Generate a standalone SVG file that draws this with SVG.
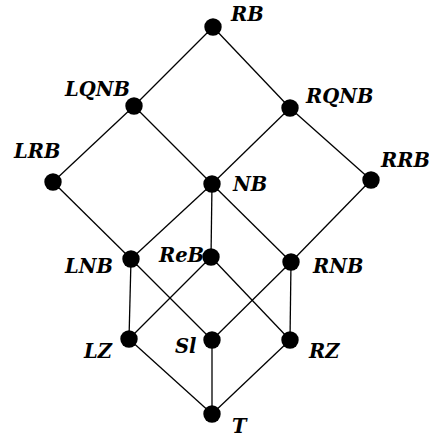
<svg xmlns="http://www.w3.org/2000/svg" width="429" height="437" viewBox="0 0 429 437">
  <style>
    .edge { stroke: #000; stroke-width: 1.3; fill: none; }
    .dot { fill: #000; }
    .lbl { font-family: "DejaVu Serif", "Liberation Serif", serif; font-weight: bold; font-style: italic; font-size: 19.5px; fill: #000; }
  </style>
  <rect width="429" height="437" fill="#fff"/>
  <g id="connectors">
    <line class="edge" x1="213" y1="27" x2="134" y2="106"/>
    <line class="edge" x1="213" y1="27" x2="290" y2="108"/>
    <line class="edge" x1="134" y1="106" x2="53" y2="182"/>
    <line class="edge" x1="134" y1="106" x2="212" y2="184"/>
    <line class="edge" x1="290" y1="108" x2="212" y2="184"/>
    <line class="edge" x1="290" y1="108" x2="371" y2="180"/>
    <line class="edge" x1="53" y1="182" x2="131" y2="259"/>
    <line class="edge" x1="212" y1="184" x2="131" y2="259"/>
    <line class="edge" x1="212" y1="184" x2="211" y2="257"/>
    <line class="edge" x1="212" y1="184" x2="291" y2="262"/>
    <line class="edge" x1="371" y1="180" x2="291" y2="262"/>
    <line class="edge" x1="131" y1="259" x2="129" y2="339"/>
    <line class="edge" x1="131" y1="259" x2="212" y2="340"/>
    <line class="edge" x1="211" y1="257" x2="129" y2="339"/>
    <line class="edge" x1="211" y1="257" x2="290" y2="340"/>
    <line class="edge" x1="291" y1="262" x2="212" y2="340"/>
    <line class="edge" x1="291" y1="262" x2="290" y2="340"/>
    <line class="edge" x1="129" y1="339" x2="212" y2="414"/>
    <line class="edge" x1="212" y1="340" x2="212" y2="414"/>
    <line class="edge" x1="290" y1="340" x2="212" y2="414"/>
  </g>
  <g id="RB"><circle class="dot" cx="213" cy="27" r="8.7"/><text class="lbl" x="231" y="21">RB</text></g>
  <g id="LQNB"><circle class="dot" cx="134" cy="106" r="8.7"/><text class="lbl" x="65" y="96">LQNB</text></g>
  <g id="RQNB"><circle class="dot" cx="290" cy="108" r="8.7"/><text class="lbl" x="306" y="103">RQNB</text></g>
  <g id="LRB"><circle class="dot" cx="53" cy="182" r="8.7"/><text class="lbl" x="14" y="158">LRB</text></g>
  <g id="NB"><circle class="dot" cx="212" cy="184" r="8.7"/><text class="lbl" x="233" y="191">NB</text></g>
  <g id="RRB"><circle class="dot" cx="371" cy="180" r="8.7"/><text class="lbl" x="381" y="167">RRB</text></g>
  <g id="LNB"><circle class="dot" cx="131" cy="259" r="8.7"/><text class="lbl" x="65" y="273">LNB</text></g>
  <g id="ReB"><circle class="dot" cx="211" cy="257" r="8.7"/><text class="lbl" x="159" y="262">ReB</text></g>
  <g id="RNB"><circle class="dot" cx="291" cy="262" r="8.7"/><text class="lbl" x="313" y="273">RNB</text></g>
  <g id="LZ"><circle class="dot" cx="129" cy="339" r="8.7"/><text class="lbl" x="84" y="358">LZ</text></g>
  <g id="Sl"><circle class="dot" cx="212" cy="340" r="8.7"/><text class="lbl" x="175" y="353">Sl</text></g>
  <g id="RZ"><circle class="dot" cx="290" cy="340" r="8.7"/><text class="lbl" x="309" y="358">RZ</text></g>
  <g id="T"><circle class="dot" cx="212" cy="414" r="8.7"/><text class="lbl" x="232" y="433">T</text></g>
</svg>
